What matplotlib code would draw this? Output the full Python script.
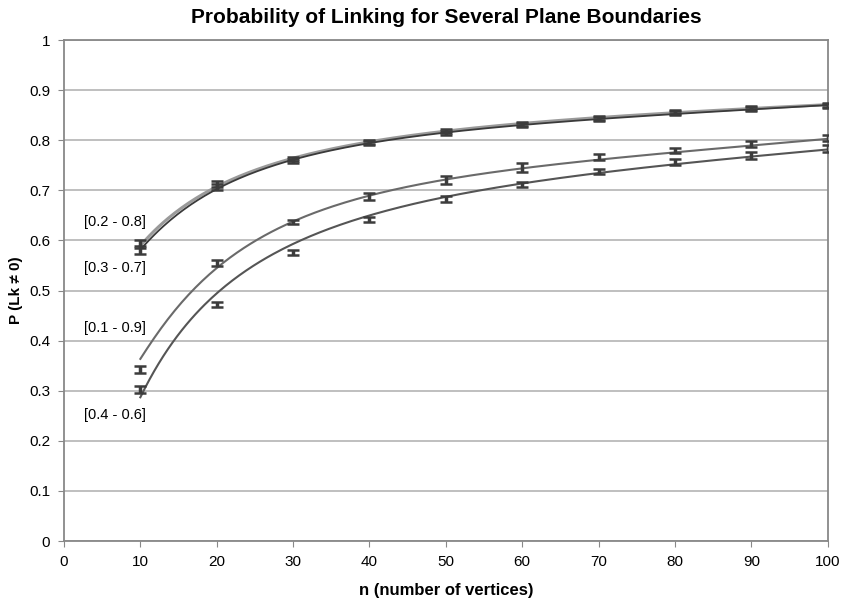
import numpy as np
import matplotlib.pyplot as plt

plt.rcParams['font.family'] = ['Liberation Sans', 'DejaVu Sans']

# data
n = np.array([10, 20, 30, 40, 50, 60, 70, 80, 90, 100])
p28 = np.array([0.592, 0.713, 0.762, 0.797, 0.818, 0.833, 0.845, 0.856, 0.864, 0.870])
p37 = np.array([0.581, 0.706, 0.759, 0.794, 0.815, 0.830, 0.842, 0.854, 0.862, 0.869])
p19 = np.array([0.343, 0.554, 0.636, 0.688, 0.720, 0.746, 0.766, 0.780, 0.792, 0.804])
p46 = np.array([0.303, 0.473, 0.576, 0.642, 0.683, 0.712, 0.737, 0.756, 0.770, 0.783])
e28 = np.array([0.008, 0.006, 0.004, 0.004, 0.004, 0.004, 0.004, 0.004, 0.004, 0.004])
e37 = np.array([0.008, 0.006, 0.004, 0.004, 0.004, 0.004, 0.004, 0.004, 0.004, 0.004])
e19 = np.array([0.007, 0.006, 0.004, 0.007, 0.008, 0.009, 0.006, 0.005, 0.006, 0.006])
e46 = np.array([0.007, 0.005, 0.005, 0.005, 0.006, 0.005, 0.005, 0.006, 0.007, 0.007])

# trend lines
nt = np.array([10, 15, 20, 25, 30, 40, 50, 60, 70, 80, 90, 100])
t28 = np.array([0.590, 0.657, 0.712, 0.740, 0.762, 0.797, 0.818, 0.833, 0.845, 0.856, 0.864, 0.870])
t37 = np.array([0.582, 0.650, 0.707, 0.737, 0.759, 0.794, 0.815, 0.830, 0.842, 0.854, 0.862, 0.869])
t19 = np.array([0.365, 0.462, 0.552, 0.601, 0.637, 0.685, 0.720, 0.745, 0.763, 0.777, 0.790, 0.801])
t46 = np.array([0.289, 0.402, 0.505, 0.555, 0.590, 0.647, 0.683, 0.712, 0.740, 0.755, 0.767, 0.779])

labels = ['[0.2 - 0.8]', '[0.3 - 0.7]', '[0.1 - 0.9]', '[0.4 - 0.6]']
label_y = [0.636, 0.544, 0.426, 0.252]

fig = plt.figure(figsize=(8.42, 6.01), dpi=100)
ax = fig.add_axes([0.076, 0.0998, 0.907, 0.8336])

series = [(p28, e28, t28, '#9a9a9a', 2.2), (p37, e37, t37, '#3a3a3a', 1.3),
          (p19, e19, t19, '#6a6a6a', 1.5), (p46, e46, t46, '#555555', 1.5)]
nn = np.linspace(10, 100, 300)
for p, e, t, c, lw in series:
    # smooth curve through the trend values
    coef = np.polyfit(np.log(nt), t, 4)
    ax.plot(nn, np.polyval(coef, np.log(nn)), color=c, lw=lw, zorder=3)
    ax.errorbar(n, p, yerr=e, fmt='none', ecolor='#3c3c3c', elinewidth=2.5,
                capsize=4, capthick=1.8, zorder=4)

for lab, y in zip(labels, label_y):
    ax.text(2.6, y, lab, fontsize=10.5, va='center', ha='left')

ax.set_xlim(0, 100)
ax.set_ylim(0, 1)
ax.set_xticks(np.arange(0, 101, 10))
ax.set_yticks(np.arange(0, 1.01, 0.1))
ax.set_yticklabels(['0', '0.1', '0.2', '0.3', '0.4', '0.5', '0.6', '0.7', '0.8', '0.9', '1'])
ax.grid(axis='y', color='#b4b4b4', lw=1.2)
ax.set_axisbelow(True)
for s in ax.spines.values():
    s.set_color('#888888')
    s.set_linewidth(1.3)
ax.tick_params(direction='out', length=4, color='#888888', labelsize=11, pad=6)
ax.set_title('Probability of Linking for Several Plane Boundaries',
             fontsize=15, fontweight='bold', pad=12)
ax.set_xlabel('n (number of vertices)', fontsize=12, fontweight='bold', labelpad=10)
ax.set_ylabel('P (Lk \u2260 0)', fontsize=11, fontweight='bold', labelpad=4)

fig.savefig('out.png', dpi=100)
